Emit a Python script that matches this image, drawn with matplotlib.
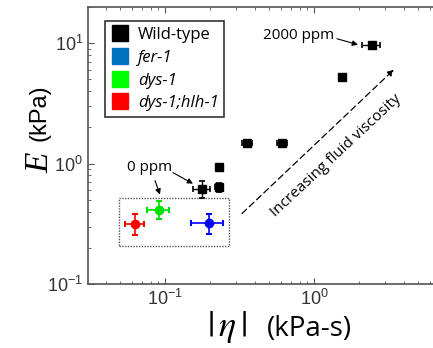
import matplotlib
matplotlib.use("Agg")
import matplotlib.pyplot as plt
from matplotlib.lines import Line2D
from matplotlib.patches import Rectangle

plt.rcParams["mathtext.fontset"] = "stix"

# Wild-type data (viscosity series)
wt_eta = [0.176, 0.229, 0.229, 0.356, 0.612, 1.55, 2.44]
wt_E = [0.617, 0.636, 0.93, 1.49, 1.49, 5.2, 9.67]
wt_eta_err = [0.023, 0.012, 0.010, 0.025, 0.045, 0.06, 0.35]
wt_E_err = [0.10, 0.06, 0.06, 0.05, 0.05, 0.2, 0.4]

# mutants
mut_names = ["fer-1", "dys-1", "dys-1;hlh-1"]
mut_eta = [0.198, 0.091, 0.063]
mut_E = [0.32, 0.415, 0.316]
mut_eta_err = [0.048, 0.015, 0.009]
mut_E_err = [0.06, 0.07, 0.063]
mut_colors = ["#0000ff", "#00e000", "#ff0000"]
legend_colors = ["#000000", "#0070c0", "#00ff00", "#ff0000"]
legend_labels = ["Wild-type", "fer-1", "dys-1", "dys-1;hlh-1"]

W, H = 433.0, 348.0
fig = plt.figure(figsize=(4.33, 3.48), dpi=100)
ax = fig.add_axes([0.2032, 0.1839, 0.7968, 0.796])
ax.set_xscale("log")
ax.set_yscale("log")
ax.set_xlim(0.0304, 6.3)
ax.set_ylim(0.1, 20)

ax.errorbar(wt_eta, wt_E, xerr=wt_eta_err, yerr=wt_E_err, fmt="s", color="black",
            ms=6, capsize=2.5, elinewidth=1, capthick=1.2, zorder=3)
for x, y, xe, ye, c in zip(mut_eta, mut_E, mut_eta_err, mut_E_err, mut_colors):
    ax.errorbar([x], [y], xerr=[xe], yerr=[ye], fmt="o", color=c, ms=6,
                capsize=2.5, elinewidth=1.2, capthick=1.5, zorder=3)

# dotted box around mutants
ax.add_patch(Rectangle((0.0493, 0.206), 0.269 - 0.0493, 0.519 - 0.206,
                       fill=False, ls=(0, (1, 1)), lw=1, ec="#555555", zorder=2))

arrow_kw = dict(arrowstyle="-|>", color="black", lw=0.8, mutation_scale=8,
                shrinkA=0, shrinkB=0)
# annotations
ax.text(0.455, 11.5, "2000 ppm", fontsize=11, family="Open Sans", va="center", ha="left")
ax.annotate("", xy=(1.974, 9.72), xytext=(1.427, 10.9), arrowprops=arrow_kw)
ax.text(0.111, 0.93, "0 ppm", fontsize=11, family="Open Sans", va="center", ha="right")
ax.annotate("", xy=(0.154, 0.682), xytext=(0.113, 0.842), arrowprops=arrow_kw)
ax.annotate("", xy=(0.0925, 0.553), xytext=(0.0857, 0.723), arrowprops=arrow_kw)

# dashed arrow
ax.annotate("", xy=(3.44, 6.03), xytext=(0.329, 0.385),
            arrowprops=dict(arrowstyle="-|>", color="black", lw=0.9, ls=(0, (5, 3)),
                            mutation_scale=9, shrinkA=0, shrinkB=0))
ax.text(1.405, 1.165, "Increasing fluid viscosity", rotation=43, fontsize=11,
        family="Open Sans", ha="center", va="center", rotation_mode="anchor")

# legend
handles = [Line2D([], [], marker="s", ls="none", ms=12, mfc=c, mec=c) for c in legend_colors]
leg = ax.legend(handles, legend_labels, loc="upper left", bbox_to_anchor=(0.026, 0.978),
                frameon=True, fancybox=False, edgecolor="black", handlelength=1.1,
                handletextpad=0.5, borderpad=0.35, labelspacing=0.4,
                prop={"family": "Open Sans", "size": 12})
leg.get_frame().set_linewidth(1.2)
for i, t in enumerate(leg.get_texts()):
    if i > 0:
        t.set_fontstyle("italic")

# spines / ticks
ax.spines["right"].set_visible(False)
for s in ["left", "bottom", "top"]:
    ax.spines[s].set_color("#555555")
    ax.spines[s].set_linewidth(1.2)
ax.tick_params(which="both", direction="in", top=True, right=False, colors="#555555",
               labelcolor="#333333", labelsize=13)
ax.tick_params(which="major", length=4)
ax.tick_params(which="minor", length=2.5)
for lab in ax.get_xticklabels() + ax.get_yticklabels():
    lab.set_family("Liberation Sans")

# axis labels built from pieces (large italic symbols)
fig.text(40 / W, 1 - 163 / H, "E", fontsize=24, family="Liberation Serif",
         style="italic", rotation=90, ha="center", va="center")
fig.text(39 / W, 1 - 113 / H, "(kPa)", fontsize=17, family="Liberation Sans",
         rotation=90, ha="center", va="center")
fig.text(226.5 / W, 1 - 327 / H, r"$|\,\eta\,|$", fontsize=26, ha="center", va="center")
fig.text(309.5 / W, 1 - 329 / H, "(kPa-s)", fontsize=20, family="Open Sans",
         ha="center", va="center")

fig.savefig("out.png", dpi=100)
